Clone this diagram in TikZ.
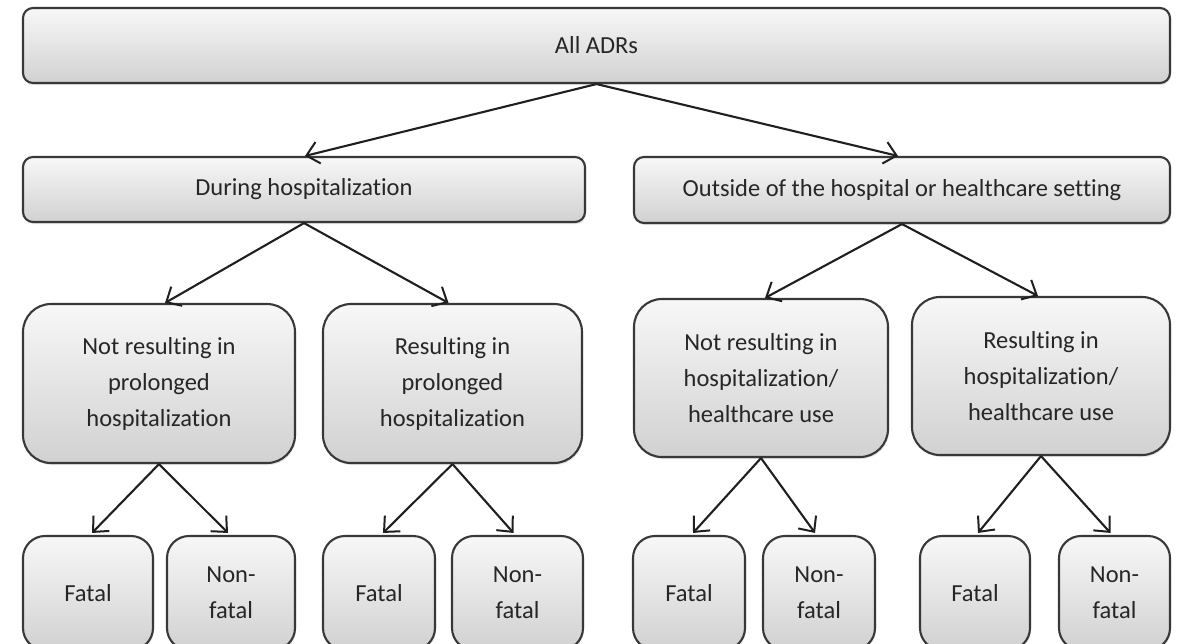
\documentclass[tikz,border=0pt]{standalone}
\usepackage{fontspec}
\setmainfont{Carlito}[Ligatures={NoCommon}]
\usetikzlibrary{arrows.meta,shadows}
\begin{document}
\begin{tikzpicture}[x=1pt,y=-1pt,
  box/.style={draw=black!78, line width=2.1pt, rounded corners=10pt,
    top color=black!3, bottom color=black!18, text=black!85,
    font=\fontsize{24.5}{36}\selectfont, align=center, inner sep=0pt,
    drop shadow={opacity=0.2,shadow xshift=1pt,shadow yshift=-2pt}},
  midbox/.style={box, rounded corners=28pt},
  leafbox/.style={box, rounded corners=22pt, minimum height=114pt},
  arr/.style={-{Straight Barb[length=12pt,width=22pt,line width=2pt]}, line width=2.1pt, draw=black!88}]
\useasboundingbox (0,0) rectangle (1177,643);
\clip (0,0) rectangle (1177,643);
% level 1
\node[box, minimum width=1147pt, minimum height=75pt] (all) at (596.5,45.5) {All ADRs};
% level 2
\node[box, minimum width=562pt, minimum height=65pt] (dur) at (304,189.5) {During hospitalization};
\node[box, minimum width=536pt, minimum height=66pt] (out) at (902,190) {Outside of the hospital or healthcare setting};
% level 3
\node[midbox, minimum width=272pt, minimum height=159pt] (a) at (159,383.5) {Not resulting in\\prolonged\\hospitalization};
\node[midbox, minimum width=259pt, minimum height=159pt] (b) at (452.5,383.5) {Resulting in\\prolonged\\hospitalization};
\node[midbox, minimum width=254pt, minimum height=158pt] (c) at (761,378) {Not resulting in\\hospitalization/\\healthcare use};
\node[midbox, minimum width=258pt, minimum height=158pt] (d) at (1041,376) {Resulting in\\hospitalization/\\healthcare use};
% level 4
\node[leafbox, minimum width=130pt] (f1) at (88,593) {Fatal};
\node[leafbox, minimum width=128pt] (n1) at (231,593) {Non-\\fatal};
\node[leafbox, minimum width=112pt] (f2) at (379,593) {Fatal};
\node[leafbox, minimum width=131pt] (n2) at (517.5,593) {Non-\\fatal};
\node[leafbox, minimum width=112pt] (f3) at (689,593) {Fatal};
\node[leafbox, minimum width=112pt] (n3) at (819,593) {Non-\\fatal};
\node[leafbox, minimum width=110pt] (f4) at (975,593) {Fatal};
\node[leafbox, minimum width=111pt] (n4) at (1114.5,593) {Non-\\fatal};
% connectors
\draw[arr] (all.south) -- ([xshift=1pt]dur.north);
\draw[arr] (all.south) -- ([xshift=-4pt]out.north);
\draw[arr] (dur.south) -- ([xshift=6pt]a.north);
\draw[arr] (dur.south) -- ([xshift=-4pt]b.north);
\draw[arr] (out.south) -- ([xshift=4pt]c.north);
\draw[arr] (out.south) -- ([xshift=-3pt]d.north);
\draw[arr] (a.south) -- ([xshift=4pt,yshift=2pt]f1.north);
\draw[arr] (a.south) -- ([xshift=-3pt,yshift=2pt]n1.north);
\draw[arr] (b.south) -- ([xshift=4pt,yshift=2pt]f2.north);
\draw[arr] (b.south) -- ([xshift=-4pt,yshift=2pt]n2.north);
\draw[arr] (c.south) -- ([xshift=4pt,yshift=2pt]f3.north);
\draw[arr] (c.south) -- ([xshift=-4pt,yshift=2pt]n3.north);
\draw[arr] (d.south) -- ([xshift=3pt,yshift=2pt]f4.north);
\draw[arr] (d.south) -- ([xshift=-4pt,yshift=2pt]n4.north);
\end{tikzpicture}
\end{document}
